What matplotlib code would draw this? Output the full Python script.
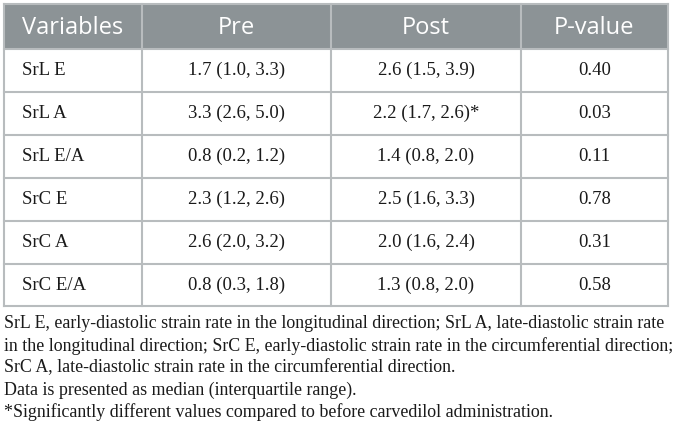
import matplotlib
matplotlib.use("Agg")
import matplotlib.pyplot as plt

# table contents
headers = ["Variables", "Pre", "Post", "P-value"]
variables = ["SrL E", "SrL A", "SrL E/A", "SrC E", "SrC A", "SrC E/A"]
pre = ["1.7 (1.0, 3.3)", "3.3 (2.6, 5.0)", "0.8 (0.2, 1.2)",
       "2.3 (1.2, 2.6)", "2.6 (2.0, 3.2)", "0.8 (0.3, 1.8)"]
post = ["2.6 (1.5, 3.9)", "2.2 (1.7, 2.6)*", "1.4 (0.8, 2.0)",
        "2.5 (1.6, 3.3)", "2.0 (1.6, 2.4)", "1.3 (0.8, 2.0)"]
pvals = ["0.40", "0.03", "0.11", "0.78", "0.31", "0.58"]
notes = [
    "SrL E, early-diastolic strain rate in the longitudinal direction; SrL A, late-diastolic strain rate",
    "in the longitudinal direction; SrC E, early-diastolic strain rate in the circumferential direction;",
    "SrC A, late-diastolic strain rate in the circumferential direction.",
    "Data is presented as median (interquartile range).",
    "*Significantly different values compared to before carvedilol administration.",
]

W, H = 673, 438
fig = plt.figure(figsize=(W / 100, H / 100), dpi=100)
ax = fig.add_axes([0, 0, 1, 1])
ax.set_xlim(0, W)
ax.set_ylim(H, 0)
ax.axis("off")

col_x = [4, 142, 331, 521, 668]
row_y = [4, 49, 92, 135, 178, 221, 264, 306]
head_bg = "#8c9396"
line_c = "#b8bcbe"
serif = ["Liberation Serif", "DejaVu Serif"]

# header band
ax.add_patch(plt.Rectangle((col_x[0], row_y[0]), col_x[-1] - col_x[0],
                           row_y[1] - row_y[0], color=head_bg, lw=0))
for i, h in enumerate(headers):
    cx = (col_x[i] + col_x[i + 1]) / 2
    if i == 0:
        cx = col_x[0] + 18
        ha = "left"
    else:
        ha = "center"
    ax.text(cx, (row_y[0] + row_y[1]) / 2 + 1, h, ha=ha, va="center",
            color="white", fontsize=17, family="Open Sans")

# body cells
cols = [variables, pre, post, pvals]
for r in range(len(variables)):
    cy = (row_y[r + 1] + row_y[r + 2]) / 2
    for c, vals in enumerate(cols):
        if c == 0:
            ax.text(col_x[0] + 18, cy, vals[r], ha="left", va="center",
                    fontsize=13.5, family=serif, color="#1a1a1a")
        else:
            ax.text((col_x[c] + col_x[c + 1]) / 2, cy, vals[r], ha="center",
                    va="center", fontsize=13.5, family=serif, color="#1a1a1a")

# grid lines
for y in row_y[1:]:
    ax.plot([col_x[0], col_x[-1]], [y, y], color=line_c, lw=1.5)
ax.plot([col_x[0], col_x[-1]], [row_y[0], row_y[0]], color=line_c, lw=1.5)
for x in col_x:
    ax.plot([x, x], [row_y[0], row_y[-1]], color=line_c, lw=1.5)

# footnotes
for i, line in enumerate(notes):
    ax.text(col_x[0], 324 + i * 22, line, ha="left", va="center",
            fontsize=12.9, family=serif, color="#1a1a1a")

fig.savefig("out.png", dpi=100)
